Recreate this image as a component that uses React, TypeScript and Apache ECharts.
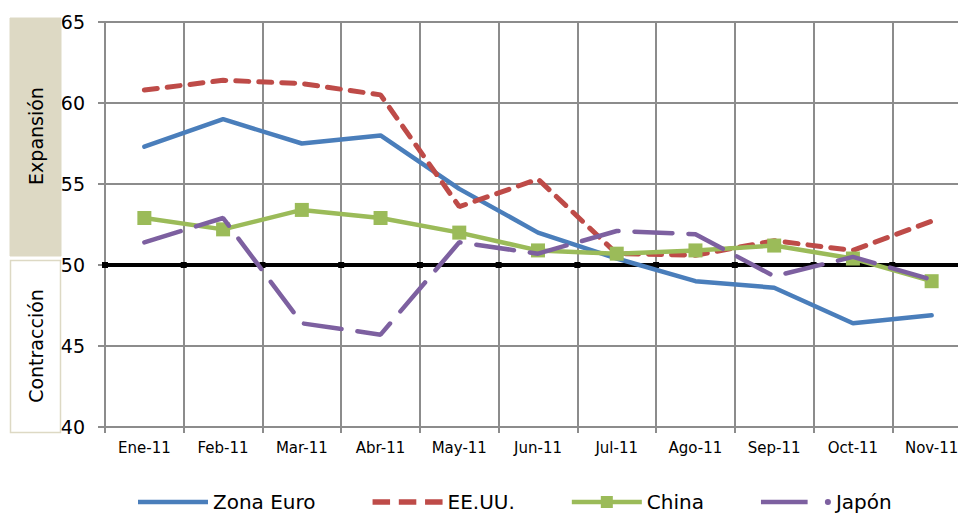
import React, { useEffect, useRef } from "react";
import * as echarts from "echarts";

const categories = ["Ene-11", "Feb-11", "Mar-11", "Abr-11", "May-11", "Jun-11", "Jul-11", "Ago-11", "Sep-11", "Oct-11", "Nov-11"];
const zonaEuro = [57.3, 59.0, 57.5, 58.0, 54.7, 52.0, 50.4, 49.0, 48.6, 46.4, 46.9];
const eeuu = [60.8, 61.4, 61.2, 60.5, 53.6, 55.3, 50.7, 50.6, 51.5, 50.9, 52.7];
const china = [52.9, 52.2, 53.4, 52.9, 52.0, 50.9, 50.7, 50.9, 51.2, 50.4, 49.0];
const japon = [51.4, 52.9, 46.4, 45.7, 51.4, 50.7, 52.1, 51.9, 49.3, 50.5, 49.1];
const umbral = 50;
const yTicks = { min: 40, max: 65, interval: 5 };
const zoneLabels = ["Expansión", "Contracción"];

const FONT = "DejaVu Sans";

const ICON_SOLID = "path://M0,0 L70,0 L70,4.5 L0,4.5 Z";
const ICON_DASH = "path://M0,0 L16,0 L16,5 L0,5 Z M24,0 L40,0 L40,5 L24,5 Z M48,0 L64,0 L64,5 L48,5 Z";
const ICON_SQUARE = "path://M0,4.75 L70,4.75 L70,9.25 L0,9.25 Z M29,1 L41,1 L41,13 L29,13 Z";
const ICON_DASHDOT = "path://M0,0 L46,0 L46,4.5 L0,4.5 Z M63,2.25 A3,3 0 1 1 69,2.25 A3,3 0 1 1 63,2.25 Z";

export default function App() {
  const ref = useRef<HTMLDivElement>(null);
  useEffect(() => {
    if (!ref.current) return;
    const chart = echarts.init(ref.current, null, { renderer: "svg" });
    const boundaries = Array.from({ length: categories.length + 1 }, (_, i) => [i, umbral]);
    chart.setOption({
      animation: false,
      textStyle: { fontFamily: FONT },
      grid: { left: 105, top: 22, width: 866, bottom: 89, outerBoundsMode: "none", containLabel: false },
      legend: {
        data: [
          { name: "Zona Euro", icon: ICON_SOLID },
          { name: "EE.UU.", icon: ICON_DASH },
          { name: "China", icon: ICON_SQUARE },
          { name: "Japón", icon: ICON_DASHDOT },
        ],
        left: 138,
        top: 492,
        padding: 0,
        itemWidth: 70,
        itemHeight: 14,
        itemGap: 57,
        itemStyle: { borderWidth: 0 },
        textStyle: { fontFamily: FONT, fontSize: 20, color: "#000" },
      },
      xAxis: [
        {
          type: "category",
          data: categories,
          boundaryGap: true,
          axisLine: { lineStyle: { color: "#8c8c8c", width: 2 } },
          axisTick: { show: true, length: 6, lineStyle: { color: "#8c8c8c", width: 2 } },
          axisLabel: { interval: 0, fontFamily: FONT, fontSize: 15, color: "#000", margin: 13 },
          splitLine: { show: true, interval: 0, lineStyle: { color: "#8c8c8c", width: 2 } },
        },
        {
          type: "value",
          min: 0,
          max: categories.length,
          show: false,
        },
      ],
      yAxis: {
        type: "value",
        min: yTicks.min,
        max: yTicks.max,
        interval: yTicks.interval,
        axisLine: { show: true, lineStyle: { color: "#8c8c8c", width: 2 } },
        axisTick: { show: true, length: 7, lineStyle: { color: "#8c8c8c", width: 2 } },
        axisLabel: { fontFamily: FONT, fontSize: 19, color: "#000", margin: 20 },
        splitLine: { show: true, lineStyle: { color: "#8c8c8c", width: 2 } },
      },
      series: [
        {
          name: "umbral",
          type: "line",
          xAxisIndex: 1,
          data: boundaries,
          symbol: "rect",
          symbolSize: 6,
          itemStyle: { color: "#000" },
          lineStyle: { color: "#000", width: 4 },
          z: 1,
        },
        {
          name: "Zona Euro",
          type: "line",
          data: zonaEuro,
          symbol: "none",
          itemStyle: { color: "#4A7EBB" },
          lineStyle: { color: "#4A7EBB", width: 4.5, cap: "round" },
          z: 2,
        },
        {
          name: "EE.UU.",
          type: "line",
          data: eeuu,
          symbol: "none",
          itemStyle: { color: "#BE4B48" },
          lineStyle: { color: "#BE4B48", width: 5, type: [13, 10], cap: "round" },
          z: 3,
        },
        {
          name: "China",
          type: "line",
          data: china,
          symbol: "rect",
          symbolSize: 14,
          itemStyle: { color: "#9BBB59" },
          lineStyle: { color: "#9BBB59", width: 4.5 },
          z: 4,
        },
        {
          name: "Japón",
          type: "line",
          data: japon,
          symbol: "none",
          itemStyle: { color: "#7D60A0" },
          lineStyle: { color: "#7D60A0", width: 4.5, type: [38, 16], cap: "round" },
          z: 5,
        },
      ],
      graphic: [
        {
          type: "rect",
          shape: { x: 10, y: 18, width: 51, height: 238 },
          style: { fill: "#DDD9C4", stroke: "#DDD9C4", lineWidth: 1 },
          z: 10,
        },
        {
          type: "rect",
          shape: { x: 10.5, y: 260.5, width: 50, height: 172 },
          style: { fill: "#fff", stroke: "#DDD9C4", lineWidth: 1.5 },
          z: 10,
        },
        {
          type: "text",
          x: 36,
          y: 136,
          rotation: Math.PI / 2,
          style: { text: zoneLabels[0], fontFamily: FONT, fontSize: 19, fill: "#000", align: "center", verticalAlign: "middle" },
          z: 11,
        },
        {
          type: "text",
          x: 36,
          y: 346,
          rotation: Math.PI / 2,
          style: { text: zoneLabels[1], fontFamily: FONT, fontSize: 19, fill: "#000", align: "center", verticalAlign: "middle" },
          z: 11,
        },
      ],
    });
    return () => chart.dispose();
  }, []);
  return <div ref={ref} style={{ position: "fixed", left: 0, top: 0, width: 958, height: 516, background: "#fff" }} />;
}
